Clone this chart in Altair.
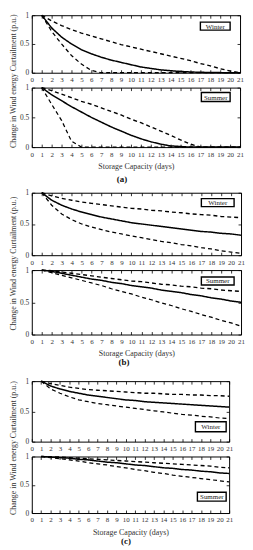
import altair as alt
import pandas as pd

FONT = "Liberation Serif"
days = list(range(1, 22))
x_ticks = list(range(0, 22))
y_ticks = [0, 0.5, 1]
series_names = ["mean", "upper", "lower"]

# ---- (a) ----
a_winter_mean = [1.0, 0.78, 0.62, 0.50, 0.40, 0.33, 0.27, 0.22, 0.18, 0.14, 0.10, 0.075, 0.05, 0.035, 0.022, 0.013, 0.008, 0.004, 0.002, 0.001, 0.0]
a_winter_upper = [1.0, 0.90, 0.82, 0.75, 0.69, 0.64, 0.59, 0.54, 0.49, 0.45, 0.41, 0.37, 0.33, 0.29, 0.25, 0.21, 0.16, 0.12, 0.07, 0.03, 0.0]
a_winter_lower = [1.0, 0.72, 0.50, 0.30, 0.15, 0.04, 0.0, 0.0, 0.0, 0.0, 0.0, 0.0, 0.0, 0.0, 0.0, 0.0, 0.0, 0.0, 0.0, 0.0, 0.0]
a_summer_mean = [1.0, 0.88, 0.78, 0.68, 0.59, 0.50, 0.42, 0.34, 0.27, 0.20, 0.14, 0.09, 0.05, 0.02, 0.01, 0.0, 0.0, 0.0, 0.0, 0.0, 0.0]
a_summer_upper = [1.0, 0.95, 0.89, 0.83, 0.77, 0.72, 0.66, 0.60, 0.54, 0.47, 0.41, 0.34, 0.27, 0.20, 0.12, 0.05, 0.0, 0.0, 0.0, 0.0, 0.0]
a_summer_lower = [1.0, 0.72, 0.45, 0.10, 0.0, 0.0, 0.0, 0.0, 0.0, 0.0, 0.0, 0.0, 0.0, 0.0, 0.0, 0.0, 0.0, 0.0, 0.0, 0.0, 0.0]

# ---- (b) ----
b_winter_mean = [1.0, 0.88, 0.80, 0.74, 0.69, 0.65, 0.61, 0.58, 0.55, 0.52, 0.50, 0.48, 0.46, 0.44, 0.42, 0.40, 0.38, 0.37, 0.35, 0.34, 0.32]
b_winter_upper = [1.0, 0.95, 0.91, 0.88, 0.85, 0.83, 0.81, 0.79, 0.77, 0.75, 0.74, 0.72, 0.71, 0.69, 0.68, 0.66, 0.65, 0.64, 0.62, 0.61, 0.60]
b_winter_lower = [1.0, 0.80, 0.66, 0.57, 0.50, 0.45, 0.41, 0.37, 0.34, 0.31, 0.28, 0.25, 0.22, 0.20, 0.17, 0.15, 0.12, 0.10, 0.07, 0.05, 0.03]
b_summer_mean = [1.0, 0.98, 0.95, 0.92, 0.89, 0.86, 0.84, 0.81, 0.79, 0.76, 0.74, 0.72, 0.69, 0.67, 0.65, 0.62, 0.60, 0.57, 0.55, 0.52, 0.50]
b_summer_upper = [1.0, 0.99, 0.97, 0.95, 0.93, 0.91, 0.89, 0.87, 0.85, 0.83, 0.82, 0.80, 0.78, 0.77, 0.75, 0.74, 0.72, 0.71, 0.69, 0.68, 0.67]
b_summer_lower = [1.0, 0.96, 0.92, 0.88, 0.84, 0.80, 0.76, 0.71, 0.67, 0.63, 0.58, 0.54, 0.49, 0.45, 0.40, 0.36, 0.31, 0.27, 0.22, 0.18, 0.13]

# ---- (c) ----
c_winter_mean = [1.0, 0.92, 0.87, 0.83, 0.80, 0.77, 0.75, 0.73, 0.71, 0.69, 0.68, 0.66, 0.65, 0.64, 0.63, 0.62, 0.61, 0.60, 0.59, 0.58, 0.57]
c_winter_upper = [1.0, 0.96, 0.93, 0.90, 0.88, 0.86, 0.85, 0.84, 0.83, 0.82, 0.81, 0.80, 0.80, 0.79, 0.78, 0.78, 0.77, 0.77, 0.76, 0.76, 0.75]
c_winter_lower = [1.0, 0.87, 0.80, 0.74, 0.69, 0.66, 0.63, 0.61, 0.59, 0.57, 0.55, 0.53, 0.51, 0.49, 0.47, 0.45, 0.44, 0.42, 0.41, 0.39, 0.38]
c_summer_mean = [1.0, 0.99, 0.98, 0.97, 0.95, 0.94, 0.92, 0.90, 0.89, 0.87, 0.85, 0.84, 0.82, 0.80, 0.79, 0.77, 0.76, 0.74, 0.73, 0.71, 0.70]
c_summer_upper = [1.0, 0.995, 0.99, 0.98, 0.97, 0.96, 0.95, 0.94, 0.93, 0.92, 0.91, 0.90, 0.89, 0.88, 0.87, 0.86, 0.85, 0.84, 0.83, 0.81, 0.80]
c_summer_lower = [1.0, 0.98, 0.96, 0.94, 0.92, 0.89, 0.87, 0.85, 0.82, 0.80, 0.77, 0.75, 0.72, 0.70, 0.67, 0.65, 0.63, 0.61, 0.59, 0.57, 0.55]

X_TITLE = "Storage Capacity (days)"
Y_TITLE = "Change in Wind energy Curtailment (p.u.)"
TXT = "#333333"


def panel(mean, upper, lower, width, height, season, box, dash,
          y_title_y=None, group_label=None, label_x=None, label_dy=30):
    df = pd.DataFrame({
        "day": days * 3,
        "value": mean + upper + lower,
        "series": [s for s in series_names for _ in days],
    })
    xs = alt.Scale(domain=[0, 21], nice=False, zero=False)
    ys = alt.Scale(domain=[0, 1], nice=False)
    common = dict(offset=-3, tickSize=3, domain=False, grid=False,
                  tickColor="black", tickWidth=0.8)
    xkw = dict(orient="bottom", values=x_ticks, format="d", labelPadding=3,
               labelFontSize=7, labelFont=FONT, labelColor=TXT,
               labelFlush=False, labelOverlap=False, **common)
    if group_label:
        x_axis = alt.Axis(title=X_TITLE, titlePadding=5.5, titleFontSize=8,
                          titleFont=FONT, titleFontWeight="normal",
                          titleColor=TXT, **xkw)
    else:
        x_axis = alt.Axis(title=None, **xkw)
    ykw = dict(orient="left", values=y_ticks, format="~g", labelPadding=3,
               labelFontSize=7.5, labelFont=FONT, labelColor=TXT,
               labelFlush=False, labelOverlap=False, **common)
    if y_title_y is not None:
        y_axis = alt.Axis(title=Y_TITLE, titleY=y_title_y, titlePadding=2.5,
                          titleFontSize=8, titleFont=FONT,
                          titleFontWeight="normal", titleColor=TXT, **ykw)
    else:
        y_axis = alt.Axis(title=None, **ykw)

    lines = alt.Chart(df).mark_line(color="black").encode(
        x=alt.X("day:Q", scale=xs, axis=x_axis),
        y=alt.Y("value:Q", scale=ys, axis=y_axis),
        strokeDash=alt.StrokeDash("series:N", scale=alt.Scale(
            domain=series_names, range=[[1, 0], dash, dash]), legend=None),
        strokeWidth=alt.StrokeWidth("series:N", scale=alt.Scale(
            domain=series_names, range=[1.5, 1.25, 1.25]), legend=None),
        detail="series:N",
    )
    ticks = alt.Chart(df).mark_line(opacity=0).encode(
        x=alt.X("day:Q", scale=xs, axis=alt.Axis(
            orient="top", values=x_ticks, labels=False, title=None, **common)),
        y=alt.Y("value:Q", scale=ys, axis=alt.Axis(
            orient="right", values=y_ticks, labels=False, title=None, **common)),
        detail="series:N",
    )
    bx_r, bx_l, by1, by2 = box
    bdf = pd.DataFrame({"label": [season]})
    rect = alt.Chart(bdf).mark_rect(fill="white", stroke="black", strokeWidth=1.4).encode(
        x=alt.value(width - bx_l), x2=alt.value(width - bx_r),
        y=alt.value(by1), y2=alt.value(by2))
    text = alt.Chart(bdf).mark_text(font=FONT, fontSize=7, color="#222222",
                                    baseline="middle", align="center").encode(
        x=alt.value(width - (bx_l + bx_r) / 2), y=alt.value((by1 + by2) / 2 + 0.5),
        text="label:N")
    layers = [lines, ticks, rect, text]
    if group_label:
        gl = alt.Chart(pd.DataFrame({"g": [group_label]})).mark_text(
            font=FONT, fontSize=9, fontWeight="bold", color="#111111",
            baseline="middle", align="center").encode(
            x=alt.value(label_x), y=alt.value(height + label_dy), text="g:N")
        layers.append(gl)
    return alt.layer(*layers).resolve_axis(x="independent", y="independent").properties(
        width=width, height=height)


def spacer(h):
    return alt.Chart(pd.DataFrame({"s": [0]})).mark_point(opacity=0).properties(
        width=10, height=h, view=alt.ViewBackground(stroke="transparent"))


aw = panel(a_winter_mean, a_winter_upper, a_winter_lower, 210, 58, "Winter",
           (10, 40, 7, 15), [4, 3], y_title_y=66)
as_ = panel(a_summer_mean, a_summer_upper, a_summer_lower, 210, 60, "Summer",
            (10, 39, 5, 14), [4, 3], group_label="(a)", label_x=91, label_dy=32)
bw = panel(b_winter_mean, b_winter_upper, b_winter_lower, 211, 63, "Winter",
           (7, 40, 6, 14), [4, 3], y_title_y=71)
bs = panel(b_summer_mean, b_summer_upper, b_summer_lower, 211, 65, "Summer",
           (7, 40, 7, 15), [8, 4], group_label="(b)", label_x=93, label_dy=28)
cw = panel(c_winter_mean, c_winter_upper, c_winter_lower, 199, 61, "Winter",
           (3, 34, 41, 51), [4, 3], y_title_y=67)
cs = panel(c_summer_mean, c_summer_upper, c_summer_lower, 199, 57, "Summer",
           (3, 32, 36, 45), [4, 3], group_label="(c)", label_x=95, label_dy=28)

chart = alt.vconcat(aw, as_, spacer(16), bw, bs, spacer(17), cw, cs,
                    spacing=15, bounds="flush").properties(
    padding=0
).configure_view(stroke="black", strokeWidth=1)

chart.save("out.html", embed_options={"renderer": "svg", "actions": False})
